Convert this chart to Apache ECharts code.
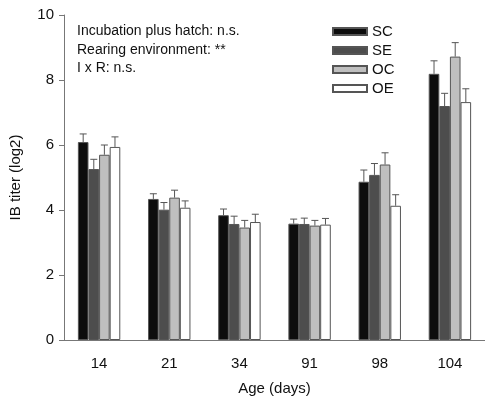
<!DOCTYPE html>
<html>
<head>
<meta charset="utf-8">
<script src="https://cdn.jsdelivr.net/npm/echarts@6/dist/echarts.min.js"></script>
<style>
html,body{margin:0;padding:0;background:#fff;}
#main{width:485px;height:401px;}
</style>
</head>
<body>
<div id="main"></div>
<script>
// 数据
var ages = ['14', '21', '34', '91', '98', '104'];
var scVals = [6.09, 4.34, 3.84, 3.58, 4.87, 8.19];
var seVals = [5.26, 4.01, 3.57, 3.57, 5.08, 7.20];
var ocVals = [5.70, 4.38, 3.46, 3.52, 5.40, 8.72];
var oeVals = [5.94, 4.07, 3.63, 3.55, 4.13, 7.32];
// 误差（向上）
var scErr = [0.25, 0.16, 0.19, 0.14, 0.36, 0.40];
var seErr = [0.30, 0.22, 0.24, 0.18, 0.35, 0.39];
var ocErr = [0.30, 0.23, 0.22, 0.16, 0.36, 0.43];
var oeErr = [0.31, 0.21, 0.24, 0.19, 0.34, 0.41];
var yTicks = [0, 2, 4, 6, 8, 10];

var BAR_W = 10.6;
var FONT = 'Liberation Sans, Arial, sans-serif';

function barSeries(name, vals, color){
	return {
		name: name,
		type: 'bar',
		data: vals,
		barWidth: BAR_W,
		barGap: '0%',
		itemStyle: {color: color, borderColor: '#555', borderWidth: 1},
		emphasis: {disabled: true}
	};
}

// 误差线
function errSeries(idx, vals, errs){
	var data = [];
	for (var i = 0; i < vals.length; i++) {
		data.push([i, vals[i], errs[i]]);
	}
	return {
		type: 'custom',
		z: 5,
		data: data,
		renderItem: function(params, api){
			var v = api.value(1);
			var e = api.value(2);
			var p0 = api.coord([api.value(0), v]);
			var p1 = api.coord([api.value(0), v + e]);
			var x = p0[0] + (idx - 1.5) * BAR_W;
			var st = {stroke: '#555', lineWidth: 1};
			return {
				type: 'group',
				children: [
					{type: 'line', shape: {x1: x, y1: p0[1], x2: x, y2: p1[1]}, style: st},
					{type: 'line', shape: {x1: x - 3.5, y1: p1[1], x2: x + 3.5, y2: p1[1]}, style: st}
				]
			};
		}
	};
}

var myChart = echarts.init(document.getElementById('main'));
var option = {
	animation: false,
	backgroundColor: '#fff',
	textStyle: {fontFamily: FONT},
	grid: {left: 64, top: 15, width: 428, height: 327},
	legend: {
		data: ['SC', 'SE', 'OC', 'OE'],
		orient: 'vertical',
		left: 327,
		top: 19,
		itemWidth: 34,
		itemHeight: 7,
		itemGap: 4,
		icon: 'rect',
		selectedMode: false,
		textStyle: {fontSize: 15, color: '#111', fontFamily: FONT}
	},
	graphic: [{
		type: 'text',
		left: 77,
		top: 22,
		style: {
			text: 'Incubation plus hatch: n.s.\nRearing environment: **\nI x R: n.s.',
			font: '14px ' + FONT,
			lineHeight: 18.5,
			fill: '#111'
		}
	}],
	xAxis: {
		type: 'category',
		data: ages,
		name: 'Age (days)',
		nameLocation: 'middle',
		nameGap: 41,
		nameTextStyle: {fontSize: 15, color: '#111'},
		axisLine: {lineStyle: {color: '#777', width: 1}},
		axisTick: {alignWithLabel: true, length: 5, lineStyle: {color: '#777'}},
		axisLabel: {fontSize: 15, color: '#111', margin: 16}
	},
	yAxis: {
		type: 'value',
		min: yTicks[0],
		max: yTicks[yTicks.length - 1],
		interval: 2,
		name: 'IB titer (log2)',
		nameLocation: 'middle',
		nameRotate: 90,
		nameGap: 41,
		nameTextStyle: {fontSize: 15, color: '#111'},
		splitLine: {show: false},
		axisLine: {show: true, lineStyle: {color: '#777', width: 1}},
		axisTick: {show: true, length: 5, lineStyle: {color: '#777'}},
		axisLabel: {fontSize: 15, color: '#111', margin: 10}
	},
	series: [
		barSeries('SC', scVals, '#0d0d0d'),
		barSeries('SE', seVals, '#4d4d4d'),
		barSeries('OC', ocVals, '#bfbfbf'),
		barSeries('OE', oeVals, '#ffffff'),
		errSeries(0, scVals, scErr),
		errSeries(1, seVals, seErr),
		errSeries(2, ocVals, ocErr),
		errSeries(3, oeVals, oeErr)
	]
};
myChart.setOption(option);
</script>
</body>
</html>
